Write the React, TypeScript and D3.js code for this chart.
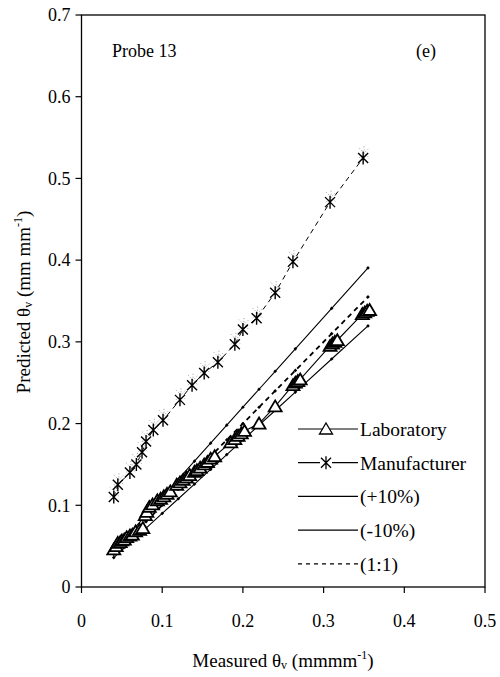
import React from "react";
import * as d3 from "d3";

const xTicks = [0, 0.1, 0.2, 0.3, 0.4, 0.5];
const yTicks = [0, 0.1, 0.2, 0.3, 0.4, 0.5, 0.6, 0.7];

const labX = [0.040,0.043,0.045,0.048,0.050,0.053,0.056,0.060,0.063,0.067,0.072,0.076,0.079,0.081,0.084,0.088,0.094,0.098,0.102,0.106,0.110,0.118,0.122,0.126,0.130,0.134,0.140,0.143,0.147,0.152,0.156,0.160,0.165,0.185,0.190,0.194,0.198,0.202,0.220,0.240,0.262,0.265,0.268,0.271,0.308,0.311,0.314,0.317,0.348,0.351,0.354,0.357];
const labY = [0.046,0.050,0.054,0.055,0.057,0.058,0.061,0.063,0.064,0.068,0.070,0.072,0.088,0.092,0.098,0.101,0.106,0.108,0.111,0.114,0.117,0.125,0.128,0.131,0.134,0.137,0.141,0.143,0.146,0.150,0.153,0.157,0.160,0.177,0.181,0.185,0.188,0.191,0.200,0.221,0.247,0.250,0.252,0.254,0.295,0.298,0.300,0.302,0.334,0.336,0.338,0.339];

const manX = [0.040,0.045,0.060,0.068,0.075,0.080,0.089,0.101,0.122,0.137,0.152,0.169,0.190,0.200,0.217,0.240,0.262,0.308,0.349];
const manY = [0.110,0.125,0.140,0.150,0.165,0.178,0.192,0.204,0.229,0.247,0.262,0.275,0.297,0.315,0.329,0.360,0.398,0.471,0.525];

const refX = [0.04,0.06,0.08,0.10,0.12,0.14,0.16,0.18,0.20,0.22,0.24,0.265,0.31,0.355];
const refFactors = [1.1, 0.9, 1.0];

const legendLabels = ["Laboratory", "Manufacturer", "(+10%)", "(-10%)", "(1:1)"];

const triPath = "M0,-6L6.5,5L-6.5,5Z";
const starPath = "M0,-6.5L0,6.5M-5,-5L5,5M-5,5L5,-5";

export default function App() {
  const W = 500, H = 677;
  const left = 81.5, right = 485, top = 15, bottom = 587;
  const x = d3.scaleLinear().domain([0, 0.5]).range([left, right]);
  const y = d3.scaleLinear().domain([0, 0.7]).range([bottom, top]);
  const line = d3.line<[number, number]>().x(d => x(d[0])).y(d => y(d[1]));

  const lab: [number, number][] = labX.map((v, i) => [v, labY[i]]);
  const man: [number, number][] = manX.map((v, i) => [v, manY[i]]);
  const refLines = refFactors.map(f => refX.map(v => [v, v * f] as [number, number]));

  const legX0 = 298, legX1 = 358, legTextX = 360, legY0 = 429, legDy = 33.7;
  const ts = { fontFamily: "Liberation Serif" };

  return (
    <svg width={W} height={H} style={{ position: "absolute", left: 0, top: 0, background: "#fff" }}>
      <rect x={0} y={0} width={W} height={H} fill="#fff" />
      <rect x={left} y={top} width={right - left} height={bottom - top} fill="none" stroke="#000" strokeWidth={1.3} />
      {yTicks.map(t => (
        <g key={"y" + t}>
          <line x1={left - 6} x2={left} y1={y(t)} y2={y(t)} stroke="#000" strokeWidth={1.2} />
          <text style={ts} x={left - 11} y={y(t)} dy="0.35em" textAnchor="end" fontSize={18}>{t === 0 ? "0" : d3.format(".1f")(t)}</text>
        </g>
      ))}
      {xTicks.map(t => (
        <g key={"x" + t}>
          <line x1={x(t)} x2={x(t)} y1={bottom} y2={bottom + 6} stroke="#000" strokeWidth={1.2} />
          <text style={ts} x={x(t)} y={bottom + 40} textAnchor="middle" fontSize={18}>{t === 0 ? "0" : d3.format(".1f")(t)}</text>
        </g>
      ))}
      <text style={ts} x={283} y={667} textAnchor="middle" fontSize={19}>
        Measured  θ<tspan fontSize={12} dy={2}>v</tspan><tspan dy={-2}>{"  (mmmm"}</tspan><tspan fontSize={12} dy={-8}>-1</tspan><tspan dy={8}>)</tspan>
      </text>
      <text style={ts} transform={`translate(30,302) rotate(-90)`} textAnchor="middle" fontSize={19}>
        Predicted  θ<tspan fontSize={12} dy={2}>v</tspan><tspan dy={-2}>{"  (mm mm"}</tspan><tspan fontSize={12} dy={-8}>-1</tspan><tspan dy={8}>)</tspan>
      </text>
      <text style={ts} x={112} y={57} fontSize={18}>Probe 13</text>
      <text style={ts} x={416} y={57} fontSize={18}>(e)</text>

      {refLines.map((pts, i) => (
        <g key={"ref" + i}>
          <path d={line(pts) || ""} fill="none" stroke="#000" strokeWidth={i === 2 ? 1.8 : 1.1} strokeDasharray={i === 2 ? "5,4" : undefined} />
          {pts.map((p, j) => (
            <rect key={j} x={x(p[0]) - 1.3} y={y(p[1]) - 1.3} width={2.6} height={2.6} fill="#000" transform={`rotate(45 ${x(p[0])} ${y(p[1])})`} />
          ))}
        </g>
      ))}

      <path d={line(lab) || ""} fill="none" stroke="#000" strokeWidth={1.1} />
      {lab.map((p, i) => (
        <path key={"l" + i} d={triPath} transform={`translate(${x(p[0])},${y(p[1])})`} fill="#fff" stroke="#000" strokeWidth={1.8} />
      ))}

      <path d={line(man) || ""} fill="none" stroke="#000" strokeWidth={1} strokeDasharray="5,4" />
      {man.map((p, i) => (
        <path key={"mg" + i} d={starPath} transform={`translate(${x(p[0]) + 1},${y(p[1]) - 5})`} fill="none" stroke="#999" strokeWidth={1} strokeDasharray="1,2" />
      ))}
      {man.map((p, i) => (
        <path key={"m" + i} d={starPath} transform={`translate(${x(p[0])},${y(p[1])})`} fill="none" stroke="#000" strokeWidth={1.4} />
      ))}

      {legendLabels.map((lbl, i) => {
        const yy = legY0 + i * legDy;
        return (
          <g key={"leg" + i}>
            <line x1={legX0} x2={legX1} y1={yy} y2={yy} stroke="#000" strokeWidth={1.2} strokeDasharray={i === 4 ? "4,4" : undefined} />
            {i === 0 && <path d={triPath} transform={`translate(${(legX0 + legX1) / 2 - 2},${yy})`} fill="#fff" stroke="#000" strokeWidth={1.3} />}
            {i === 1 && <g><rect x={320} y={yy - 7} width={12} height={14} fill="#fff" /><path d={starPath} transform={`translate(${(legX0 + legX1) / 2 - 2},${yy})`} fill="none" stroke="#000" strokeWidth={1.3} /></g>}
            <text style={ts} x={legTextX} y={yy} dy="0.35em" fontSize={19.5}>{lbl}</text>
          </g>
        );
      })}
    </svg>
  );
}
